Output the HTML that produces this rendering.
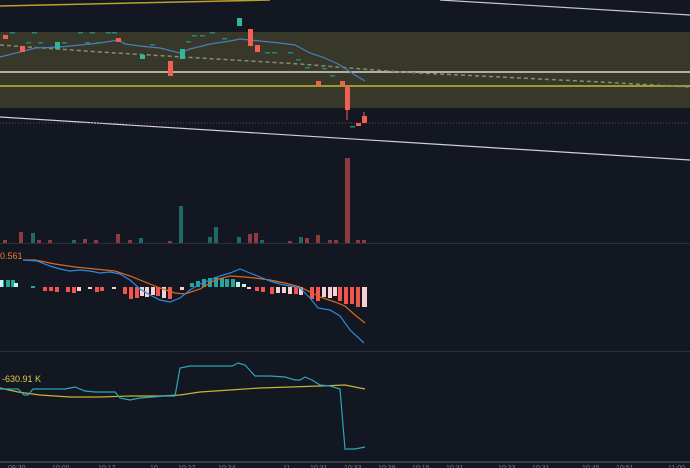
<!DOCTYPE html>
<html><head><meta charset="utf-8"><style>
html,body{margin:0;padding:0;background:#131722;}
svg{display:block}
</style></head><body>
<svg width="690" height="468" viewBox="0 0 690 468" xmlns="http://www.w3.org/2000/svg" font-family="Liberation Sans, sans-serif">
<rect width="690" height="468" fill="#131722"/>
<!-- main pane -->
<rect x="0" y="32" width="690" height="76" fill="#38382a"/>
<line x1="0" y1="6" x2="270" y2="0" stroke="#b9a32a" stroke-width="1.5"/>
<line x1="440" y1="0" x2="690" y2="15" stroke="#c8c8c8" stroke-width="1.2"/>
<line x1="0" y1="117" x2="690" y2="160" stroke="#d0d0d0" stroke-width="1.2"/>
<line x1="0" y1="72" x2="690" y2="72" stroke="#d8d8c8" stroke-width="1.5"/>
<line x1="0" y1="86" x2="690" y2="86" stroke="#c8b82a" stroke-width="1.5"/>
<line x1="0" y1="123" x2="690" y2="123" stroke="#8a3a4a" stroke-width="1" stroke-dasharray="1,2"/>
<polyline points="0,45 100,52 200,58 300,64 400,72 500,77 600,82 690,87" fill="none" stroke="#8a8a78" stroke-width="1.5" stroke-dasharray="4,3"/>
<polyline points="0,57 20,52 35,48 60,47 80,45 100,43 118,40 125,44 140,46 160,48 180,53 190,49 210,44 230,41 240,39 260,41 280,43 295,45 310,53 325,58 340,65 355,75 365,81" fill="none" stroke="#4a7cc0" stroke-width="1.2"/>
<!-- candles -->
<g fill="#f0624f">
<rect x="3" y="35" width="5" height="4"/><rect x="20" y="46" width="5" height="6"/><rect x="116" y="38" width="5" height="4"/>
<rect x="168" y="61" width="5" height="15"/><rect x="248" y="29" width="5" height="17"/><rect x="255" y="45" width="5" height="7"/>
<rect x="316" y="81" width="5" height="4"/><rect x="340" y="81" width="5" height="4"/><rect x="345" y="86" width="5" height="24"/>
<rect x="356" y="123" width="5" height="3"/><rect x="362" y="116" width="5" height="7"/>
</g>
<line x1="347" y1="108" x2="347" y2="120" stroke="#f0624f"/><line x1="364" y1="112" x2="364" y2="118" stroke="#f0624f"/>
<g fill="#2fb89a">
<rect x="55" y="42" width="5" height="7"/><rect x="140" y="55" width="5" height="4"/><rect x="180" y="49" width="5" height="10"/><rect x="237" y="18" width="5" height="8"/>
</g>
<g fill="#1f8a74">
<rect x="10" y="32" width="5" height="1.5"/><rect x="32" y="32" width="5" height="1.5"/><rect x="78" y="32" width="5" height="1.5"/><rect x="90" y="32" width="5" height="1.5"/><rect x="106" y="32" width="5" height="1.5"/><rect x="112" y="32" width="5" height="1.5"/>
<rect x="26" y="42" width="5" height="1.5"/><rect x="38" y="42" width="5" height="1.5"/><rect x="62" y="42" width="5" height="1.5"/><rect x="85" y="42" width="5" height="1.5"/><rect x="96" y="42" width="5" height="1.5"/>
<rect x="150" y="44" width="5" height="1.5"/><rect x="186" y="41" width="5" height="1.5"/><rect x="192" y="35" width="5" height="1.5"/><rect x="200" y="35" width="5" height="1.5"/><rect x="210" y="32" width="5" height="1.5"/><rect x="222" y="38" width="5" height="1.5"/>
<rect x="265" y="52" width="5" height="1.5"/><rect x="272" y="52" width="5" height="1.5"/><rect x="288" y="52" width="5" height="1.5"/><rect x="296" y="59" width="5" height="1.5"/><rect x="305" y="67" width="5" height="1.5"/><rect x="322" y="68" width="5" height="1.5"/><rect x="330" y="75" width="5" height="1.5"/><rect x="350" y="126" width="5" height="1.5"/>
</g>
<!-- separator -->
<line x1="0" y1="243.5" x2="690" y2="243.5" stroke="#2a2e39"/>
<!-- volume -->
<g fill="#8f3a40">
<rect x="3" y="240" width="4" height="3"/><rect x="19" y="232" width="4" height="11"/><rect x="37" y="240" width="4" height="3"/><rect x="48" y="240" width="4" height="3"/>
<rect x="83" y="239" width="4" height="4"/><rect x="94" y="240" width="4" height="3"/><rect x="116" y="234" width="4" height="9"/><rect x="128" y="240" width="4" height="3"/>
<rect x="168" y="241" width="4" height="2"/><rect x="248" y="234" width="4" height="9"/><rect x="254" y="233" width="4" height="10"/><rect x="288" y="241" width="4" height="2"/>
<rect x="305" y="238" width="4" height="5"/><rect x="316" y="235" width="4" height="8"/><rect x="328" y="240" width="4" height="3"/><rect x="334" y="240" width="4" height="3"/>
<rect x="345" y="158" width="5" height="85"/><rect x="356" y="240" width="4" height="3"/><rect x="362" y="240" width="4" height="3"/>
</g>
<g fill="#1f6a62">
<rect x="31" y="233" width="4" height="10"/><rect x="72" y="240" width="4" height="3"/><rect x="139" y="238" width="4" height="5"/><rect x="179" y="206" width="4" height="37"/>
<rect x="208" y="237" width="4" height="6"/><rect x="214" y="227" width="4" height="16"/><rect x="237" y="237" width="4" height="6"/><rect x="260" y="240" width="4" height="3"/><rect x="299" y="237" width="4" height="6"/>
</g>
<line x1="0" y1="351.5" x2="690" y2="351.5" stroke="#2a2e39"/>
<!-- MACD -->
<text x="0" y="259" fill="#f07a2a" font-size="9">0.561</text>
<g fill="#f0554f">
<rect x="43" y="287" width="4" height="4"/><rect x="49" y="287" width="4" height="4"/><rect x="55" y="287" width="4" height="5"/><rect x="66" y="287" width="4" height="5"/><rect x="72" y="287" width="4" height="6"/><rect x="95" y="287" width="4" height="5"/><rect x="100" y="287" width="4" height="4"/>
<rect x="123" y="287" width="4" height="7"/><rect x="129" y="287" width="4" height="12"/><rect x="135" y="287" width="4" height="11"/><rect x="156" y="287" width="4" height="9"/><rect x="168" y="287" width="4" height="12"/>
<rect x="255" y="287" width="4" height="4"/><rect x="261" y="287" width="4" height="5"/><rect x="270" y="287" width="4" height="7"/><rect x="294" y="287" width="4" height="7"/><rect x="310" y="287" width="4" height="12"/><rect x="316" y="287" width="4" height="14"/><rect x="338" y="287" width="4" height="14"/><rect x="344" y="287" width="4" height="17"/><rect x="350" y="287" width="4" height="17"/><rect x="356" y="287" width="4" height="20"/>
</g>
<g fill="#f8d0d4">
<rect x="77" y="287" width="4" height="4"/><rect x="88" y="287" width="4" height="2"/><rect x="112" y="287" width="4" height="2"/><rect x="140" y="287" width="4" height="9"/><rect x="145" y="287" width="4" height="10"/><rect x="151" y="287" width="4" height="8"/><rect x="162" y="287" width="4" height="11"/><rect x="180" y="287" width="4" height="3"/>
<rect x="247" y="287" width="4" height="2"/><rect x="276" y="287" width="4" height="6"/><rect x="282" y="287" width="4" height="6"/><rect x="288" y="287" width="4" height="7"/><rect x="299" y="287" width="4" height="8"/><rect x="322" y="287" width="4" height="10"/><rect x="328" y="287" width="4" height="11"/><rect x="333" y="287" width="4" height="9"/><rect x="362" y="287" width="5" height="20"/>
</g>
<g fill="#26a69a">
<rect x="0" y="280" width="4" height="7"/><rect x="6" y="280" width="4" height="7"/><rect x="11" y="280" width="4" height="7"/><rect x="31" y="286" width="4" height="2"/>
<rect x="190" y="283" width="4" height="4"/><rect x="196" y="281" width="4" height="6"/><rect x="202" y="279" width="4" height="8"/><rect x="208" y="278" width="4" height="9"/><rect x="214" y="277" width="4" height="10"/><rect x="220" y="278" width="4" height="9"/><rect x="225" y="279" width="4" height="8"/><rect x="231" y="279" width="4" height="8"/>
</g>
<g fill="#c8f0ea"><rect x="0" y="280" width="3" height="7"/><rect x="14" y="283" width="4" height="4"/><rect x="236" y="282" width="4" height="5"/><rect x="242" y="284" width="4" height="3"/></g>
<polyline points="23,260 35,260 55,264 75,267 95,269 115,271 130,276 145,282 160,288 175,293 185,294 200,289 215,280 230,276 245,277 255,278 270,280 285,283 300,287 310,292 320,297 335,302 345,306 355,315 365,323" fill="none" stroke="#e0661a" stroke-width="1.2"/>
<polyline points="23,260 37,261 50,266 60,269 70,271 80,270 90,271 100,273 110,272 120,274 130,280 140,289 150,295 160,300 170,302 180,298 190,290 200,284 210,280 220,276 230,273 240,269 250,273 260,277 270,281 280,284 290,286 300,288 310,298 318,308 330,310 340,316 350,330 364,343" fill="none" stroke="#2a8ae0" stroke-width="1.2"/>
<!-- OBV -->
<text x="2" y="382" fill="#e6c84a" font-size="9">-630.91 K</text>
<polyline points="0,388 18,392 40,395 70,397 100,397 130,396 160,396 180,395 200,392 230,390 260,388 290,387 320,386 345,385 355,387 365,389" fill="none" stroke="#c8b43a" stroke-width="1.2"/>
<polyline points="0,389 18,389 24,395 28,395 33,389 50,389 65,389 75,387 85,391 95,392 115,392 120,398 130,400 140,398 165,396 175,396 180,368 190,366 200,366 215,366 232,366 238,363 245,365 255,376 270,376 285,377 295,380 300,380 305,377 312,380 320,385 330,386 340,389 345,449 355,449 365,447" fill="none" stroke="#2aa6b8" stroke-width="1.2"/>
<line x1="0" y1="462" x2="690" y2="462" stroke="#3a3e48" stroke-width="2"/>
<g fill="#787b86" font-size="7">
<text x="8" y="470">09:30</text><text x="52" y="470">10:00</text><text x="98" y="470">10:17</text><text x="150" y="470">10</text><text x="178" y="470">10:27</text><text x="218" y="470">10:34</text><text x="283" y="470">11</text><text x="310" y="470">10:31</text><text x="344" y="470">10:33</text><text x="378" y="470">10:39</text><text x="412" y="470">10:15</text><text x="446" y="470">10:31</text><text x="498" y="470">10:33</text><text x="532" y="470">10:31</text><text x="582" y="470">10:45</text><text x="616" y="470">10:51</text><text x="668" y="470">11:00</text>
</g>
</svg>
</body></html>
